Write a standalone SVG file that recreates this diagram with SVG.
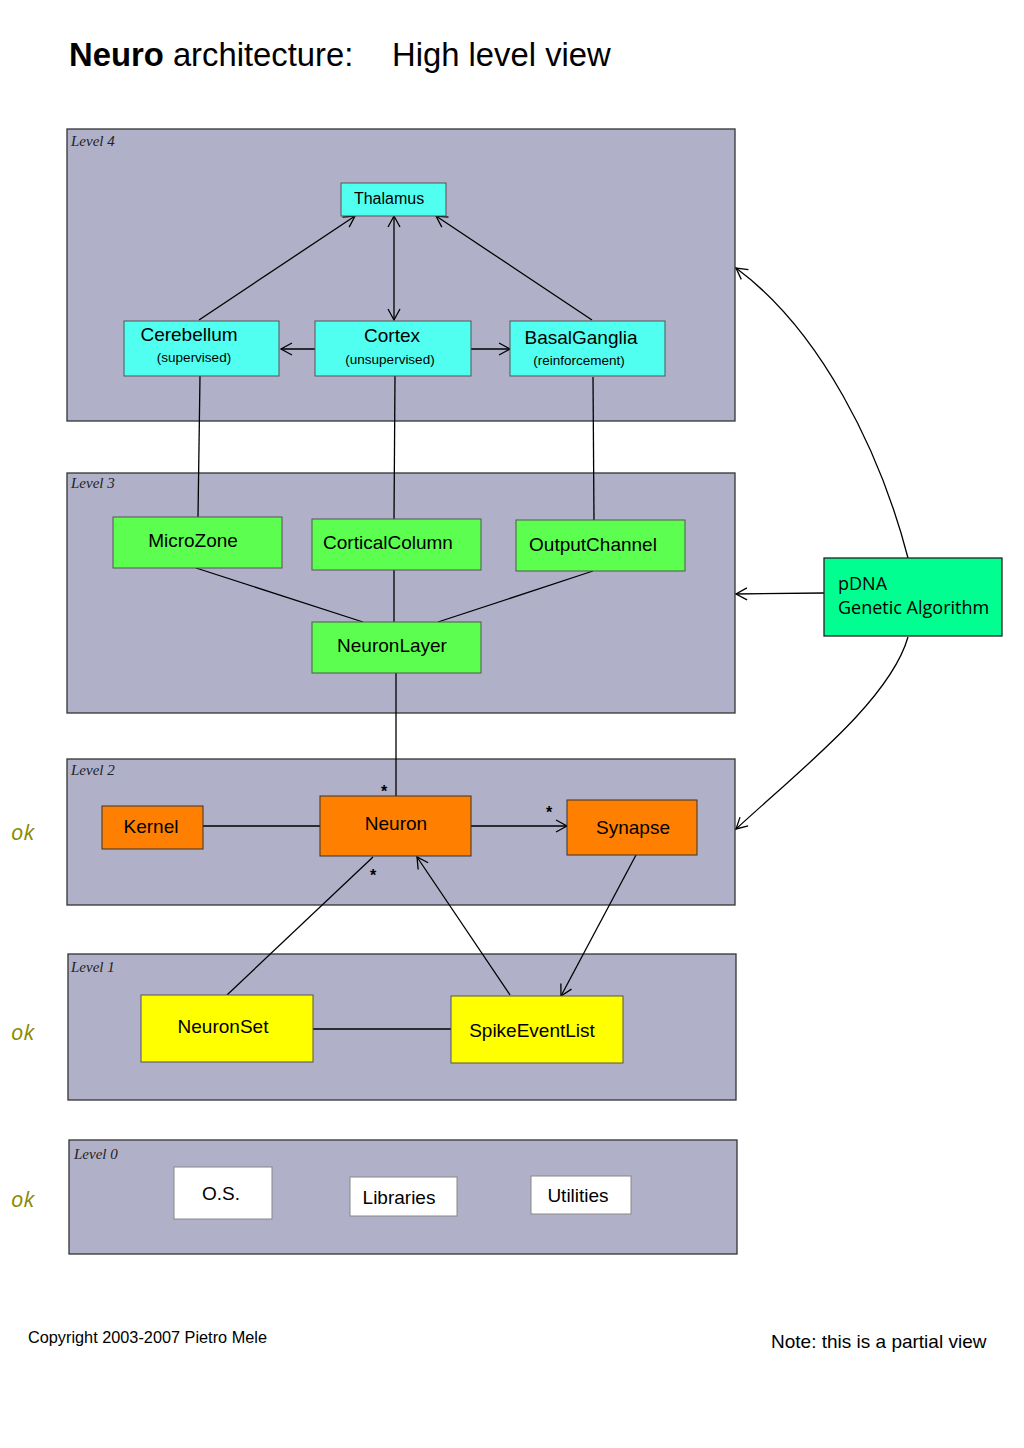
<svg xmlns="http://www.w3.org/2000/svg" width="1024" height="1448" viewBox="0 0 1024 1448">
<style>
.lvl{fill:#b0b1c8;stroke:#333;stroke-width:1.3}
.lt{font-family:"Liberation Serif",serif;font-style:italic;font-size:15px;fill:#222}
.n{stroke:#555;stroke-width:1}
.cy{fill:#50fff0}
.gr{fill:#5cff50}
.or{fill:#ff8000;stroke:#333}
.ye{fill:#ffff00}
.wh{fill:#fff;stroke:#888}
.t{font-family:"Liberation Sans",Arial,sans-serif;font-size:19px;fill:#000;text-anchor:middle}
.s{font-family:"Liberation Sans",Arial,sans-serif;font-size:13.5px;fill:#000;text-anchor:middle}
.c line,.c path{stroke:#000;stroke-width:1.3;fill:none}
.ok{font-family:"Open Sans",sans-serif;font-style:italic;font-size:22px;fill:#8a8a00}
.st{font-family:"Liberation Sans",Arial,sans-serif;font-size:16px;font-weight:bold;fill:#000}
</style>
<defs>
<marker id="a" markerWidth="14" markerHeight="14" refX="12" refY="7" orient="auto-start-reverse" markerUnits="userSpaceOnUse">
<path d="M1,1 L12,7 L1,13" fill="none" stroke="#000" stroke-width="1.3"/>
</marker>
</defs>
<rect width="1024" height="1448" fill="#fff"/>
<text x="69" y="66" font-family="Liberation Sans,Arial,sans-serif" font-size="32.8"><tspan font-weight="bold">Neuro</tspan> architecture:</text>
<text x="392" y="66" font-family="Liberation Sans,Arial,sans-serif" font-size="32.8">High level view</text>

<g id="level4"><rect class="lvl" x="67" y="129" width="668" height="292"/><text class="lt" x="71" y="146">Level 4</text></g>
<g id="level3"><rect class="lvl" x="67" y="473" width="668" height="240"/><text class="lt" x="71" y="488">Level 3</text></g>
<g id="level2"><rect class="lvl" x="67" y="759" width="668" height="146"/><text class="lt" x="71" y="775">Level 2</text></g>
<g id="level1"><rect class="lvl" x="68" y="954" width="668" height="146"/><text class="lt" x="71" y="972">Level 1</text></g>
<g id="level0"><rect class="lvl" x="69" y="1140" width="668" height="114"/><text class="lt" x="74" y="1159">Level 0</text></g>

<g class="c" id="connectors">
<line x1="199" y1="320" x2="355" y2="216" marker-end="url(#a)"/>
<line x1="394" y1="320" x2="394" y2="216" marker-start="url(#a)" marker-end="url(#a)"/>
<line x1="592" y1="320" x2="436" y2="216" marker-end="url(#a)"/>
<line x1="315" y1="349" x2="281" y2="349" marker-end="url(#a)"/>
<line x1="471" y1="349" x2="510" y2="349" marker-end="url(#a)"/>
<line x1="200" y1="376" x2="198" y2="517"/>
<line x1="395" y1="376" x2="394" y2="519"/>
<line x1="593" y1="377" x2="594" y2="520"/>
<line x1="196" y1="568" x2="363" y2="622"/>
<line x1="394" y1="570" x2="394" y2="622"/>
<line x1="593" y1="571" x2="438" y2="622"/>
<line x1="396" y1="673" x2="396" y2="796"/>
<line x1="203" y1="826" x2="320" y2="826"/>
<line x1="471" y1="826" x2="567" y2="826" marker-end="url(#a)"/>
<line x1="373" y1="857" x2="227" y2="995"/>
<line x1="510" y1="995" x2="417" y2="857" marker-end="url(#a)"/>
<line x1="636" y1="855" x2="561" y2="996" marker-end="url(#a)"/>
<line x1="313" y1="1029" x2="451" y2="1029"/>
<path d="M908,558 C880,450 820,330 736,268" marker-end="url(#a)"/>
<line x1="824" y1="593" x2="736" y2="594" marker-end="url(#a)"/>
<path d="M908,637 C890,700 800,770 736,829" marker-end="url(#a)"/>
</g>

<g id="thalamus"><rect class="n cy" x="341" y="183" width="105" height="33"/><text class="t" x="389" y="204" style="font-size:16px">Thalamus</text></g>
<g id="cerebellum"><rect class="n cy" x="124" y="321" width="155" height="55"/><text class="t" x="189" y="341">Cerebellum</text><text class="s" x="194" y="362">(supervised)</text></g>
<g id="cortex"><rect class="n cy" x="315" y="321" width="156" height="55"/><text class="t" x="392" y="342">Cortex</text><text class="s" x="390" y="364">(unsupervised)</text></g>
<g id="basalganglia"><rect class="n cy" x="510" y="321" width="155" height="55"/><text class="t" x="581" y="344">BasalGanglia</text><text class="s" x="579" y="365">(reinforcement)</text></g>

<g id="microzone"><rect class="n gr" x="113" y="517" width="169" height="51"/><text class="t" x="193" y="547">MicroZone</text></g>
<g id="corticalcolumn"><rect class="n gr" x="312" y="519" width="169" height="51"/><text class="t" x="388" y="549">CorticalColumn</text></g>
<g id="outputchannel"><rect class="n gr" x="516" y="520" width="169" height="51"/><text class="t" x="593" y="551">OutputChannel</text></g>
<g id="neuronlayer"><rect class="n gr" x="312" y="622" width="169" height="51"/><text class="t" x="392" y="652">NeuronLayer</text></g>

<g id="kernel"><rect class="n or" x="102" y="806" width="101" height="43"/><text class="t" x="151" y="833">Kernel</text></g>
<g id="neuron"><rect class="n or" x="320" y="796" width="151" height="60"/><text class="t" x="396" y="830">Neuron</text></g>
<g id="synapse"><rect class="n or" x="567" y="800" width="130" height="55"/><text class="t" x="633" y="834">Synapse</text></g>
<g id="mult"><text class="st" x="381" y="797">*</text><text class="st" x="546" y="818">*</text><text class="st" x="370" y="881">*</text></g>

<g id="neuronset"><rect class="n ye" x="141" y="995" width="172" height="67"/><text class="t" x="223" y="1033">NeuronSet</text></g>
<g id="spikeeventlist"><rect class="n ye" x="451" y="996" width="172" height="67"/><text class="t" x="532" y="1037">SpikeEventList</text></g>

<g id="os"><rect class="wh" x="174" y="1167" width="98" height="52"/><text class="t" x="221" y="1200">O.S.</text></g>
<g id="libraries"><rect class="wh" x="350" y="1177" width="107" height="39"/><text class="t" x="399" y="1204">Libraries</text></g>
<g id="utilities"><rect class="wh" x="531" y="1176" width="100" height="38"/><text class="t" x="578" y="1202">Utilities</text></g>

<g id="pdna"><rect x="824" y="558" width="178" height="78" fill="#00ff90" stroke="#222" stroke-width="1.3"/><text x="838" y="590" font-family="Open Sans,sans-serif" font-size="18">pDNA</text><text x="838" y="614" font-family="Open Sans,sans-serif" font-size="18">Genetic Algorithm</text></g>

<text class="ok" x="11" y="840">ok</text>
<text class="ok" x="11" y="1040">ok</text>
<text class="ok" x="11" y="1207">ok</text>

<text x="28" y="1343" font-family="Liberation Sans,Arial,sans-serif" font-size="16.3">Copyright 2003-2007 Pietro Mele</text>
<text x="771" y="1348" font-family="Liberation Sans,Arial,sans-serif" font-size="19">Note: this is a partial view</text>
</svg>
